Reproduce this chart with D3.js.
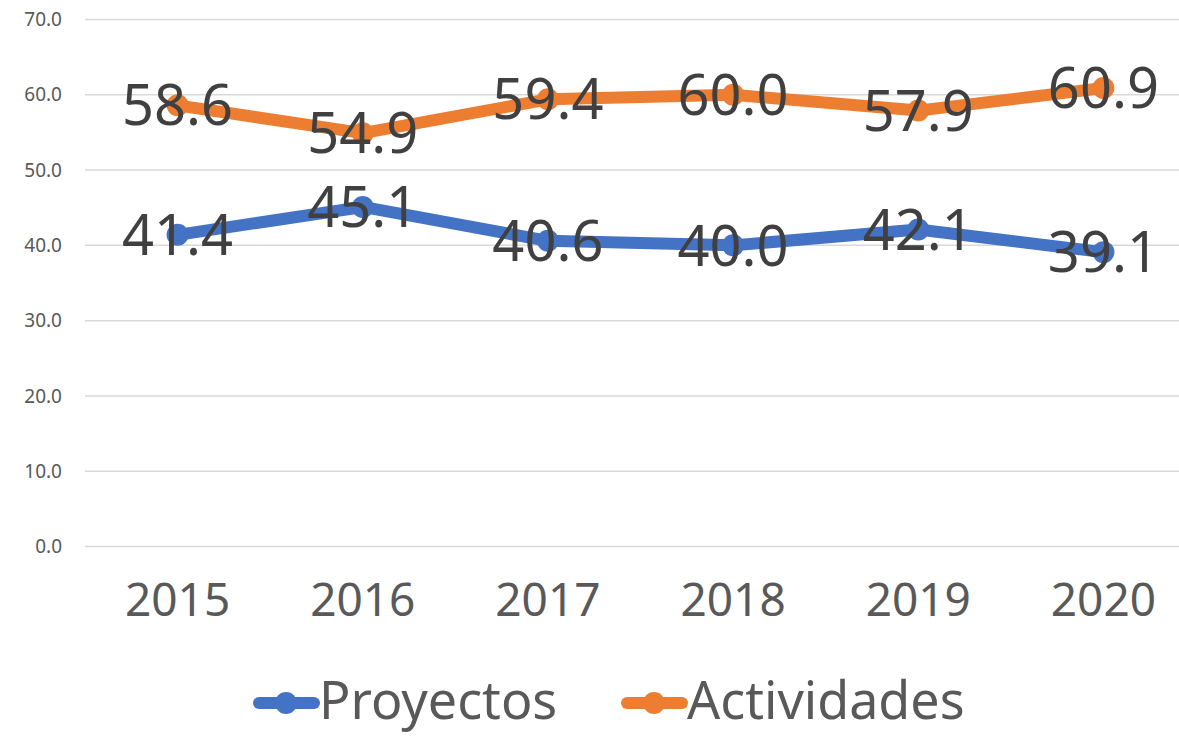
<!DOCTYPE html>
<html>
<head>
<meta charset="utf-8">
<script src="https://cdn.jsdelivr.net/npm/d3@7"></script>
<style>
  body { margin: 0; background: #fff; }
  text { font-family: "Noto Sans", "Open Sans", sans-serif; }
</style>
</head>
<body>
<div id="chart"></div>
<script>
const width = 1179;
const height = 738;

const years = ['2015', '2016', '2017', '2018', '2019', '2020'];
const proyectos = [41.4, 45.1, 40.6, 40.0, 42.1, 39.1];
const actividades = [58.6, 54.9, 59.4, 60.0, 57.9, 60.9];
const yTicks = [0, 10, 20, 30, 40, 50, 60, 70];

const series = [
  { name: 'Proyectos', values: proyectos, color: '#4472C4' },
  { name: 'Actividades', values: actividades, color: '#ED7D31' }
];

const svg = d3.select('#chart')
  .append('svg')
  .attr('width', width)
  .attr('height', height);

const xScale = d3.scaleBand().domain(years).range([85, 1196]);
const yScale = d3.scaleLinear().domain([0, 70]).range([546.5, 19.5]);

// gridlines
svg.append('g').selectAll('line').data(yTicks)
  .enter().append('line')
  .attr('x1', 85)
  .attr('x2', 1196)
  .attr('y1', d => yScale(d))
  .attr('y2', d => yScale(d))
  .attr('stroke', '#D9D9D9')
  .attr('stroke-width', 1.5);

// y axis labels
const yAxis = d3.axisLeft(yScale).tickValues(yTicks).tickFormat(d3.format('.1f')).tickSize(0).tickPadding(0);
svg.append('g')
  .attr('transform', 'translate(62,0)')
  .call(yAxis)
  .call(g => g.select('.domain').remove())
  .selectAll('text')
  .attr('fill', '#595959')
  .style('font-size', '19px')
  .style('font-family', '"Noto Sans", sans-serif');

// x axis labels
const xAxis = d3.axisBottom(xScale).tickSize(0).tickPadding(0);
svg.append('g')
  .attr('transform', 'translate(0,583)')
  .call(xAxis)
  .call(g => g.select('.domain').remove())
  .selectAll('text')
  .attr('fill', '#595959')
  .style('font-size', '46px')
  .style('font-family', '"Noto Sans", sans-serif');

const cx = (d, i) => xScale(years[i]) + xScale.bandwidth() / 2;

const line = d3.line()
  .x((d, i) => cx(d, i))
  .y(d => yScale(d));

series.forEach(s => {
  const g = svg.append('g');
  g.append('path')
    .datum(s.values)
    .attr('d', line)
    .attr('fill', 'none')
    .attr('stroke', s.color)
    .attr('stroke-width', 12)
    .attr('stroke-linejoin', 'round')
    .attr('stroke-linecap', 'round');
  g.selectAll('circle').data(s.values)
    .enter().append('circle')
    .attr('cx', cx)
    .attr('cy', d => yScale(d))
    .attr('r', 11)
    .attr('fill', s.color);
});

series.forEach(s => {
  svg.append('g').selectAll('text').data(s.values)
    .enter().append('text')
    .attr('x', cx)
    .attr('y', d => yScale(d))
    .attr('dy', '0.36em')
    .attr('text-anchor', 'middle')
    .attr('fill', '#404040')
    .style('font-size', '56px')
    .text(d => d3.format('.1f')(d));
});

// legend
const legendX = [255, 623];
const legend = svg.append('g');
series.forEach((s, i) => {
  const g = legend.append('g').attr('transform', `translate(${legendX[i]},703)`);
  g.append('line')
    .attr('x1', 4).attr('x2', 59)
    .attr('y1', 0).attr('y2', 0)
    .attr('stroke', s.color)
    .attr('stroke-width', 12)
    .attr('stroke-linecap', 'round');
  g.append('circle')
    .attr('cx', 31).attr('cy', 0).attr('r', 11)
    .attr('fill', s.color);
  g.append('text')
    .attr('x', 64)
    .attr('y', 16)
    .attr('fill', '#595959')
    .style('font-size', '52px')
    .text(s.name);
});
</script>
</body>
</html>
